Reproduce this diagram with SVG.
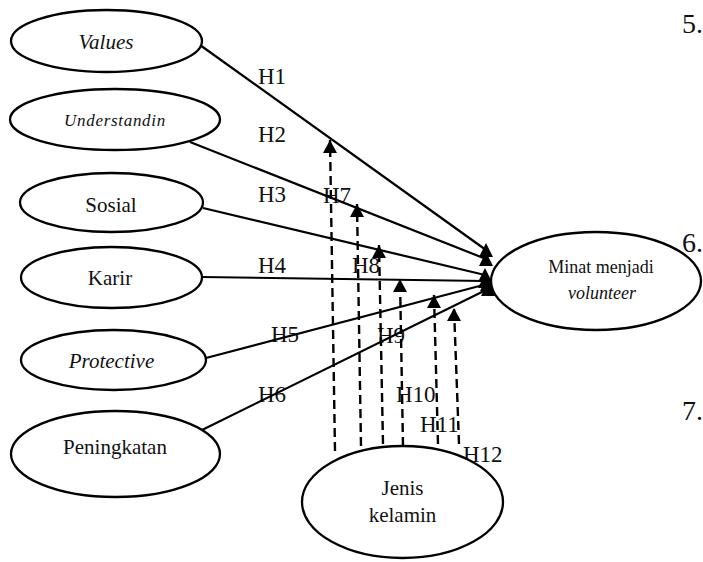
<svg xmlns="http://www.w3.org/2000/svg" width="703" height="562" viewBox="0 0 703 562">
<style>
.node ellipse{fill:#fff;stroke:#000;stroke-width:2.3}
.solid{stroke:#000;stroke-width:2.2;fill:none;marker-end:url(#tc)}
.dash{stroke:#000;stroke-width:2.4;fill:none;stroke-dasharray:9 5;marker-end:url(#ta)}
</style>
<defs>
<marker id="tc" viewBox="0 0 14 14" markerWidth="14" markerHeight="14" markerUnits="userSpaceOnUse" refX="7" refY="7" orient="0">
<path d="M7,0 L14,14 L0,14 z" fill="#000"/>
</marker>
<marker id="ta" viewBox="0 0 14 13" markerWidth="14" markerHeight="13" markerUnits="userSpaceOnUse" refX="7" refY="0" orient="0">
<path d="M7,0 L14,13 L0,13 z" fill="#000"/>
</marker>
</defs>
<rect width="703" height="562" fill="#fff"/>

<g id="labels" font-family="Liberation Serif" font-size="23" fill="#111">
<text x="258" y="84">H1</text>
<text x="258" y="142">H2</text>
<text x="258" y="202">H3</text>
<text x="258" y="273">H4</text>
<text x="271" y="342">H5</text>
<text x="258" y="402">H6</text>
<text x="323" y="203">H7</text>
<text x="352" y="273">H8</text>
<text x="377" y="343">H9</text>
<text x="396" y="402">H10</text>
<text x="420" y="432">H11</text>
<text x="463" y="462">H12</text>
</g>

<g id="connectors">
<line class="solid" x1="200" y1="45" x2="486" y2="250"/>
<line class="solid" x1="190" y1="142" x2="486" y2="259"/>
<line class="solid" x1="203" y1="208" x2="485" y2="275"/>
<line class="solid" x1="202" y1="277" x2="485" y2="281"/>
<line class="solid" x1="206" y1="358" x2="487" y2="284"/>
<line class="solid" x1="202" y1="430" x2="488" y2="289"/>
<line class="dash" x1="335" y1="451" x2="330" y2="140"/>
<line class="dash" x1="361" y1="446" x2="357" y2="204"/>
<line class="dash" x1="383" y1="444" x2="379" y2="245"/>
<line class="dash" x1="403" y1="446" x2="400" y2="279"/>
<line class="dash" x1="438" y1="444" x2="434" y2="295"/>
<line class="dash" x1="459" y1="444" x2="454" y2="308"/>
</g>

<g id="nodes" font-family="Liberation Serif" font-size="21" fill="#111" text-anchor="middle">
<g id="values" class="node">
<ellipse cx="106.5" cy="41" rx="95.5" ry="31"/>
<text x="106" y="49" font-style="italic">Values</text>
</g>
<g id="understanding" class="node">
<ellipse cx="115" cy="119.5" rx="105" ry="30.5"/>
<text x="115" y="126" font-style="italic" font-size="17" letter-spacing="0.7">Understandin</text>
</g>
<g id="sosial" class="node">
<ellipse cx="111.5" cy="202.5" rx="91.5" ry="29.5"/>
<text x="111" y="212">Sosial</text>
</g>
<g id="karir" class="node">
<ellipse cx="111.5" cy="277.5" rx="90.5" ry="30.5"/>
<text x="110" y="285">Karir</text>
</g>
<g id="protective" class="node">
<ellipse cx="113.5" cy="360" rx="92.5" ry="30"/>
<text x="111.5" y="368" font-style="italic">Protective</text>
</g>
<g id="peningkatan" class="node">
<ellipse cx="115.5" cy="454" rx="104.5" ry="43"/>
<text x="115" y="454">Peningkatan</text>
</g>
<g id="minat" class="node">
<ellipse cx="596" cy="281" rx="105" ry="49"/>
<text x="601" y="273" font-size="18">Minat menjadi</text>
<text x="602" y="299" font-size="18" font-style="italic">volunteer</text>
</g>
<g id="jenis" class="node">
<ellipse cx="402.5" cy="502" rx="100.5" ry="56"/>
<text x="402.5" y="495">Jenis</text>
<text x="402.5" y="522">kelamin</text>
</g>
</g>

<g id="page-numbers" font-family="Liberation Serif" font-size="28" fill="#111">
<text x="682" y="33">5.</text>
<text x="682" y="252">6.</text>
<text x="682" y="420">7.</text>
</g>
</svg>
